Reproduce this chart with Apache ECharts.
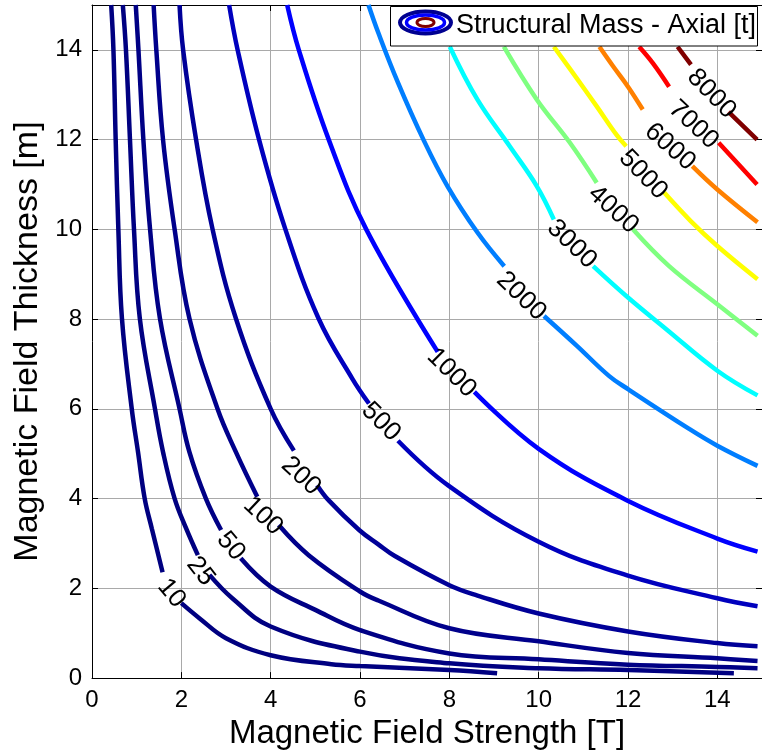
<!DOCTYPE html>
<html>
<head>
<meta charset="utf-8">
<title>Structural Mass - Axial</title>
<script src="https://cdn.jsdelivr.net/npm/echarts@6/dist/echarts.min.js"></script>
<style>
  html, body { margin: 0; padding: 0; background: #fff; }
  #chart { width: 762px; height: 755px; }
</style>
</head>
<body>
<div id="chart"></div>
<script>
  // contour levels [t]
  var levels = [10, 25, 50, 100, 200, 500, 1000, 2000, 3000, 4000, 5000, 6000, 7000, 8000];

  // contour lines: [field strength T, thickness m]
  // null = gap left in the line for its inline label
  var c10 = [[0.43, 15], [0.48, 14], [0.53, 12], [0.59, 10], [0.67, 8.02], [0.89, 6.0], [1.03, 5.04], [1.18, 4.0], [1.34, 3.33], [1.58, 2.36],
    null, [2.0, 1.67], [2.41, 1.33], [3.0, 0.89], [4.0, 0.51], [5.36, 0.31], [6.0, 0.27], [8.0, 0.18], [9.07, 0.11]];
  var c25 = [[0.69, 15], [0.76, 14], [0.85, 12], [0.94, 10], [1.07, 8.02], [1.41, 6.0], [1.59, 5.04], [1.85, 4.0], [2.11, 3.33], [2.37, 2.74],
    null, [2.63, 2.30], [3.14, 1.78], [4.0, 1.15], [6.0, 0.59], [8.0, 0.33], [10.0, 0.22], [12.0, 0.18], [14.37, 0.11]];
  var c50 = [[0.98, 15], [1.04, 14], [1.15, 12], [1.30, 10], [1.52, 8.02], [1.96, 6.0], [2.18, 5.04], [2.55, 4.0], [2.89, 3.30],
    null, [3.33, 2.67], [4.0, 2.04], [5.0, 1.52], [6.0, 1.07], [8.0, 0.55], [10.0, 0.42], [12.0, 0.30], [14.0, 0.25], [14.9, 0.22]];
  var c100 = [[1.38, 15], [1.44, 14], [1.59, 12], [1.85, 10], [2.18, 8.02], [2.81, 6.0], [3.22, 5.04], [3.70, 4.04],
    null, [4.18, 3.41], [4.85, 2.74], [6.0, 1.93], [6.41, 1.73], [8.0, 1.11], [10.0, 0.82], [12.0, 0.56], [14.0, 0.44], [14.9, 0.38]];
  var c200 = [[1.96, 15], [2.04, 14], [2.33, 12], [2.70, 10], [3.22, 8.02], [4.0, 6.0], [4.52, 5.07],
    null, [5.04, 4.30], [5.30, 3.96], [5.98, 3.30], [6.41, 2.98], [6.78, 2.72], [8.0, 2.07], [8.63, 1.84], [10.0, 1.44], [12.0, 1.04], [14.0, 0.78], [14.9, 0.71]];
  var c500 = [[3.07, 15], [3.26, 14], [3.74, 12], [4.33, 10], [5.07, 8.02], [5.83, 6.67], [6.20, 6.12],
    null, [6.85, 5.29], [7.98, 4.29], [10.0, 3.04], [11.98, 2.29], [14.0, 1.78], [14.9, 1.6]];
  var c1000 = [[4.37, 15], [4.63, 14], [5.30, 12], [6.14, 10], [7.74, 7.27],
    null, [8.56, 6.38], [10.0, 5.11], [11.98, 3.96], [14.0, 3.11], [14.9, 2.82]];
  var c2000 = [[6.19, 15], [6.41, 14.38], [6.85, 13.27], [7.42, 12.0], [7.96, 10.96], [8.63, 9.93], [9.23, 9.18],
    null, [10.12, 8.07], [10.85, 7.41], [11.58, 6.73], [12.0, 6.44], [13.36, 5.56], [14.0, 5.18], [14.9, 4.73]];
  var c3000 = [[8.01, 14.07], [8.63, 12.89], [9.36, 11.84], [9.96, 10.96], [10.34, 10.22],
    null, [11.22, 9.18], [12.0, 8.48], [12.85, 7.78], [14.0, 6.85], [14.9, 6.30]];
  var c4000 = [[9.22, 14.07], [9.96, 12.89], [10.70, 11.93], [11.3, 11.04],
    null, [12.11, 10.0], [12.92, 9.18], [14.0, 8.33], [14.9, 7.63]];
  var c5000 = [[10.34, 14.07], [10.85, 13.37], [11.3, 12.74], [11.74, 12.11], [11.96, 11.85],
    null, [12.81, 10.82], [13.41, 10.18], [14.0, 9.63], [14.9, 8.89]];
  var c6000 = [[11.36, 14.07], [11.67, 13.63], [12.0, 13.18], [12.33, 12.67],
    null, [13.44, 11.41], [14.0, 10.89], [14.9, 10.16]];
  var c7000 = [[12.25, 14.07], [12.56, 13.7], [12.92, 13.18],
    null, [14.03, 11.93], [14.89, 11.0]];
  var c8000 = [[13.11, 14.07], [13.41, 13.67],
    null, [14.25, 12.62], [14.89, 12.0]];

  // where each level's inline label sits
  var labelAt = [[1.78, 1.89], [2.43, 2.38], [3.11, 2.94], [3.83, 3.61], [4.68, 4.50], [6.47, 5.71], [8.05, 6.80],
    [9.61, 8.51], [10.74, 9.67], [11.67, 10.44], [12.34, 11.22], [12.94, 11.84], [13.47, 12.33], [13.87, 13.02]];

  var contours = [c10, c25, c50, c100, c200, c500, c1000, c2000, c3000, c4000, c5000, c6000, c7000, c8000];

  // jet colormap, one colour per level
  var jet = ['#000080', '#000081', '#000085', '#00008b', '#000098', '#0000be', '#0000fe',
    '#007eff', '#00feff', '#7fff80', '#feff00', '#ff8000', '#ff0000', '#800000'];
  var labelAngle = [-50, -52, -50, -43, -43, -45, -45, -44, -44, -42, -46, -41, -43, -46];
  var font = '"Liberation Sans", Arial, Helvetica, sans-serif';
  var legendName = 'Structural Mass - Axial [t]';

  var chart = echarts.init(document.getElementById('chart'), null, { renderer: 'canvas' });

  var series = contours.map(function (pts, i) {
    return {
      type: 'line',
      name: legendName,
      xAxisIndex: 0,
      yAxisIndex: 0,
      data: pts.map(function (p) { return p ? p : ['-', '-']; }),
      showSymbol: false,
      symbol: 'none',
      smooth: 0.4,
      connectNulls: false,
      lineStyle: { color: jet[i], width: 4.5 },
      silent: true,
      animation: false,
      z: 3
    };
  });

  // inline contour labels
  series.push({
    type: 'scatter',
    symbolSize: 0,
    silent: true,
    animation: false,
    z: 5,
    itemStyle: { opacity: 1 },
    data: labelAt.map(function (p, i) {
      return { value: p, name: String(levels[i]), label: { rotate: labelAngle[i] } };
    }),
    label: {
      show: true,
      position: 'inside',
      formatter: '{b}',
      color: '#000',
      opacity: 1,
      textBorderWidth: 0,
      textBorderColor: 'transparent',
      textShadowBlur: 0,
      fontSize: 26,
      fontFamily: font
    }
  });

  var gridLine = { show: true, lineStyle: { color: '#a9a9a9', width: 1, type: 'solid' } };

  var option = {
    backgroundColor: '#fff',
    animation: false,
    grid: { left: 92, top: 5, width: 675, height: 675, containLabel: false },
    xAxis: [{
      type: 'value', min: 0, max: 15, interval: 2, position: 'bottom',
      name: 'Magnetic Field Strength [T]', nameLocation: 'middle', nameGap: 34,
      nameTextStyle: { color: '#000', fontSize: 33, fontFamily: font },
      axisLine: { show: true, onZero: false, lineStyle: { color: '#000', width: 1 } },
      axisTick: { show: true, inside: true, length: 6, lineStyle: { color: '#000' } },
      axisLabel: { color: '#000', fontSize: 24, fontFamily: font, margin: 10, showMaxLabel: false },
      splitLine: gridLine
    }, {
      type: 'value', min: 0, max: 15, interval: 2, position: 'top',
      axisLine: { show: true, onZero: false, lineStyle: { color: '#000', width: 1 } },
      axisTick: { show: true, inside: true, length: 6, lineStyle: { color: '#000' } },
      axisLabel: { show: false },
      splitLine: { show: false }
    }],
    yAxis: [{
      type: 'value', min: 0, max: 15, interval: 2, position: 'left',
      name: 'Magnetic Field Thickness [m]', nameLocation: 'middle', nameGap: 46,
      nameTextStyle: { color: '#000', fontSize: 34, fontFamily: font },
      axisLine: { show: true, onZero: false, lineStyle: { color: '#000', width: 1 } },
      axisTick: { show: true, inside: true, length: 6, lineStyle: { color: '#000' } },
      axisLabel: { color: '#000', fontSize: 24, fontFamily: font, margin: 10, showMaxLabel: false },
      splitLine: gridLine
    }, {
      type: 'value', min: 0, max: 15, interval: 2, position: 'right',
      axisLine: { show: true, onZero: false, lineStyle: { color: '#000', width: 1 } },
      axisTick: { show: true, inside: true, length: 6, lineStyle: { color: '#000' } },
      axisLabel: { show: false },
      splitLine: { show: false }
    }],
    series: series,
    graphic: [
      // legend box with the contour-style icon
      { type: 'rect', z: 100, shape: { x: 390.5, y: 6.5, width: 367, height: 39.5 },
        style: { fill: '#fff', stroke: '#000', lineWidth: 1 } },
      { type: 'ellipse', z: 101, shape: { cx: 425.5, cy: 22.5, rx: 25.5, ry: 11 },
        style: { fill: 'none', stroke: '#000090', lineWidth: 4 } },
      { type: 'ellipse', z: 101, shape: { cx: 425.5, cy: 22.5, rx: 19, ry: 7.5 },
        style: { fill: 'none', stroke: '#0000ff', lineWidth: 3.5 } },
      { type: 'ellipse', z: 101, shape: { cx: 425.5, cy: 22.5, rx: 8.5, ry: 4 },
        style: { fill: '#fff', stroke: '#800000', lineWidth: 3 } },
      { type: 'text', z: 101, x: 456, y: 26,
        style: { text: legendName, fill: '#000', fontSize: 27, fontFamily: font, verticalAlign: 'middle' } }
    ]
  };

  chart.setOption(option);
</script>
</body>
</html>
